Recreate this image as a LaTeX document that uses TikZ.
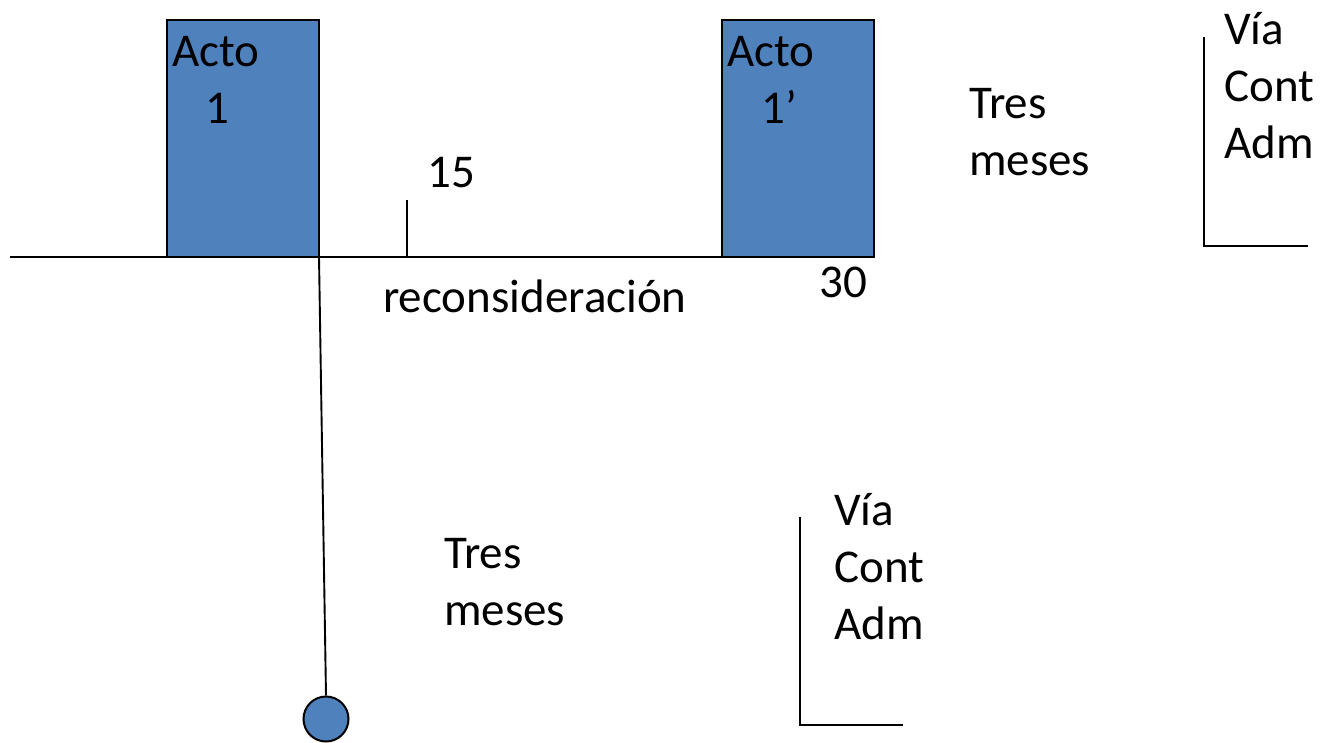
\documentclass[tikz,border=0pt]{standalone}
\usepackage{fontspec}
\setmainfont{Carlito}
\begin{document}
\begin{tikzpicture}[x=1pt,y=-1pt,
  txt/.style={anchor=base west,inner sep=0pt,font=\fontsize{47}{56}\selectfont},
  acto/.style={draw=black,line width=2pt,fill=actoblue,minimum width=152pt,minimum height=237pt,anchor=north west,inner sep=0pt,outer sep=0pt},
  ln/.style={line width=1.9pt,black}]
\definecolor{actoblue}{HTML}{4F81BD}
\useasboundingbox (0,0) rectangle (1320,742);
% boxes
\node[acto] (box1) at (167,20) {};
\node[acto] (box2) at (722,20) {};
% timeline
\coordinate (lstart) at (10,257);
\draw[ln] (lstart) -- (box2.south west);
% tick 15
\coordinate (tick) at (407,257);
\coordinate (ticktop) at (407,200);
\draw[ln] (tick) -- (ticktop);
% pendulum
\node[draw=black,line width=2pt,fill=actoblue,circle,minimum size=45pt,inner sep=0pt] (circ) at (326,719) {};
\draw[ln] (box1.south east) -- (circ.north);
% brackets
\coordinate (b1top) at (1204,37);
\coordinate (b1corner) at (1204,246);
\coordinate (b1end) at (1308,246);
\draw[ln] (b1top) -- (b1corner) -- (b1end);
\coordinate (b2top) at (800,517);
\coordinate (b2corner) at (800,725);
\coordinate (b2end) at (903,725);
\draw[ln] (b2top) -- (b2corner) -- (b2end);
% texts
\node[txt] (a1) at (172,66) {Acto};
\node[txt] (a1n) at (205,123) {1};
\node[txt] (a2) at (727,66) {Acto};
\node[txt] (a2n) at (761,123) {1’};
\node[txt] (n15) at (427,187) {15};
\node[txt] (n30) at (819,297) {30};
\node[txt] (rec) at (383,312) {reconsideración};
\node[txt] (tr1) at (969,118) {Tres};
\node[txt] (me1) at (969,175) {meses};
\node[txt] (v1) at (1224,44) {Vía};
\node[txt] (c1) at (1224,101) {Cont};
\node[txt] (ad1) at (1224,158) {Adm};
\node[txt] (tr2) at (444,568) {Tres};
\node[txt] (me2) at (444,625) {meses};
\node[txt] (v2) at (834,525) {Vía};
\node[txt] (c2) at (834,582) {Cont};
\node[txt] (ad2) at (834,639) {Adm};
\end{tikzpicture}
\end{document}
